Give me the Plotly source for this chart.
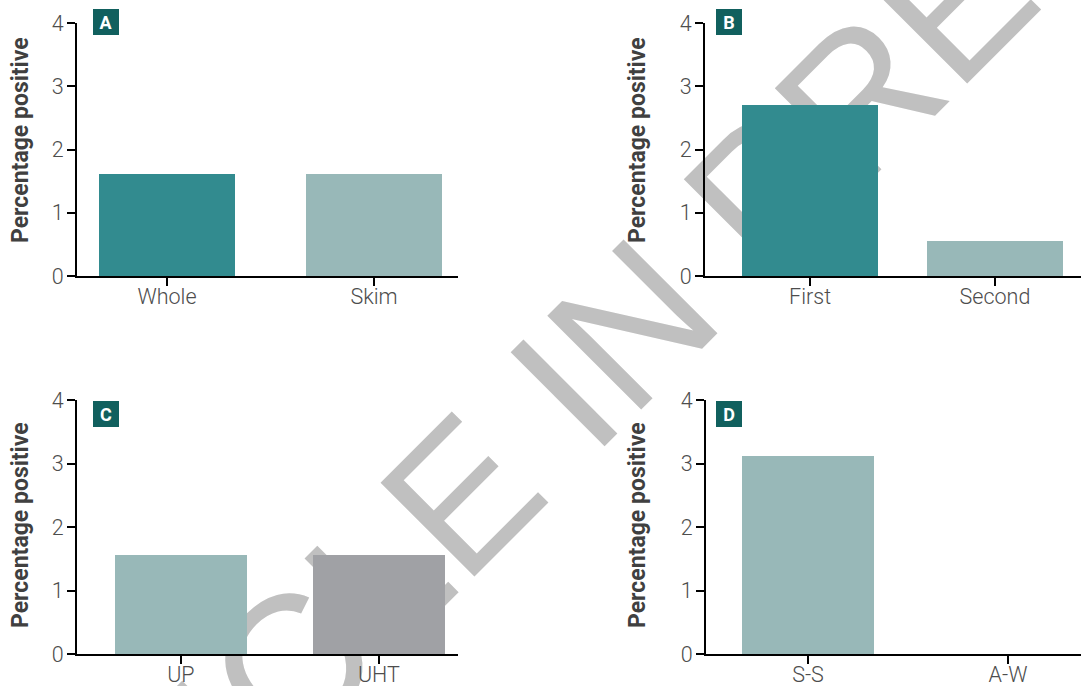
import plotly.graph_objects as go

# ---- data ----
cats_a = ["Whole", "Skim"]
vals_a = [1.62, 1.62]
cats_b = ["First", "Second"]
vals_b = [2.70, 0.55]
cats_c = ["UP", "UHT"]
vals_c = [1.56, 1.56]
cats_d = ["S-S", "A-W"]
vals_d = [3.12, 0.0]
panel_letters = ["A", "B", "C", "D"]
y_title = "Percentage positive"
y_ticks = [0, 1, 2, 3, 4]
watermark = "ARTICLE IN PRESS"

TEAL = "#328B8F"
LIGHT = "#98B8B8"
GREY = "#A0A1A5"
BOX = "#11605E"

W, H = 1081, 686

fig = go.Figure()

panels = [
    (cats_a, vals_a, [TEAL, LIGHT], "x", "y", 0.66),
    (cats_b, vals_b, [TEAL, LIGHT], "x2", "y2", 0.74),
    (cats_c, vals_c, [LIGHT, GREY], "x3", "y3", 0.667),
    (cats_d, vals_d, [LIGHT, LIGHT], "x4", "y4", 0.66),
]
for cats, vals, cols, xa, ya, bw in panels:
    fig.add_trace(go.Bar(x=cats, y=vals, marker=dict(color=cols, line=dict(width=0)),
                         width=bw, xaxis=xa, yaxis=ya, showlegend=False, hoverinfo="skip"))

tickfont = dict(family="Roboto", size=21.5, color="#4D4D4D", weight=300)

def xax(domain, rng, anchor):
    return dict(domain=domain, range=rng, anchor=anchor, type="category",
                showline=True, linecolor="black", linewidth=2, ticks="outside",
                ticklen=8, tickwidth=2, tickcolor="black", showgrid=False,
                zeroline=False, tickfont=tickfont, fixedrange=True, automargin=False,
                ticklabelstandoff=-8)

def yax(domain, anchor):
    return dict(domain=domain, range=[0, 4], anchor=anchor, tickvals=y_ticks,
                showline=True, linecolor="black", linewidth=2, ticks="outside",
                ticklen=8, tickwidth=2, tickcolor="black", showgrid=False,
                zeroline=False, tickfont=tickfont, fixedrange=True, automargin=False,
                ticklabelstandoff=-1)

xl = [77 / W, 458 / W]
xr1 = [705 / W, 1.0]
xr2 = [706 / W, 1.0]
yt = [1 - 276 / H, 1 - 23 / H]
yb = [1 - 654 / H, 1 - 400 / H]

fig.update_layout(
    width=W, height=H, autosize=False,
    margin=dict(l=0, r=0, t=0, b=0, autoexpand=False),
    paper_bgcolor="white", plot_bgcolor="rgba(0,0,0,0)",
    bargap=0,
    xaxis=xax(xl, [-0.435, 1.406], "y"),
    yaxis=yax(yt, "x"),
    xaxis2=xax(xr1, [-0.568, 1.465], "y2"),
    yaxis2=yax(yt, "x2"),
    xaxis3=xax(xl, [-0.525, 1.40], "y3"),
    yaxis3=yax(yb, "x3"),
    xaxis4=xax(xr2, [-0.51, 1.365], "y4"),
    yaxis4=yax(yb, "x4"),
)

# y-axis titles
for (px, py) in [(20, 140), (637, 140), (20, 525), (637, 525)]:
    fig.add_annotation(x=px / W, y=1 - py / H, xref="paper", yref="paper",
                       text=y_title, showarrow=False, textangle=-90,
                       xanchor="center", yanchor="middle",
                       font=dict(family="Roboto", size=23, color="#404040", weight=700))

# panel letters
for letter, (px, py) in zip(panel_letters, [(106, 22), (729, 22), (106, 414), (729, 414)]):
    fig.add_annotation(x=px / W, y=1 - py / H, xref="paper", yref="paper",
                       text=letter, showarrow=False, xanchor="center", yanchor="middle",
                       width=26, height=26, borderpad=0, borderwidth=0, bgcolor=BOX,
                       font=dict(family="Roboto", size=18, color="white", weight=700))

# watermark beneath the bars
cx, cy = 544.6 / W, 1 - 386 / H
fig.add_shape(type="rect", xref="paper", yref="paper",
              x0=cx - 0.005, x1=cx + 0.005, y0=cy - 0.005, y1=cy + 0.005,
              line=dict(width=0), fillcolor="rgba(0,0,0,0)", layer="below",
              label=dict(text=watermark, textangle=-45, textposition="middle center",
                         font=dict(family="Liberation Sans", size=193, color="#C0C0C0")))

fig.write_html("out.html", config={"displayModeBar": False})
